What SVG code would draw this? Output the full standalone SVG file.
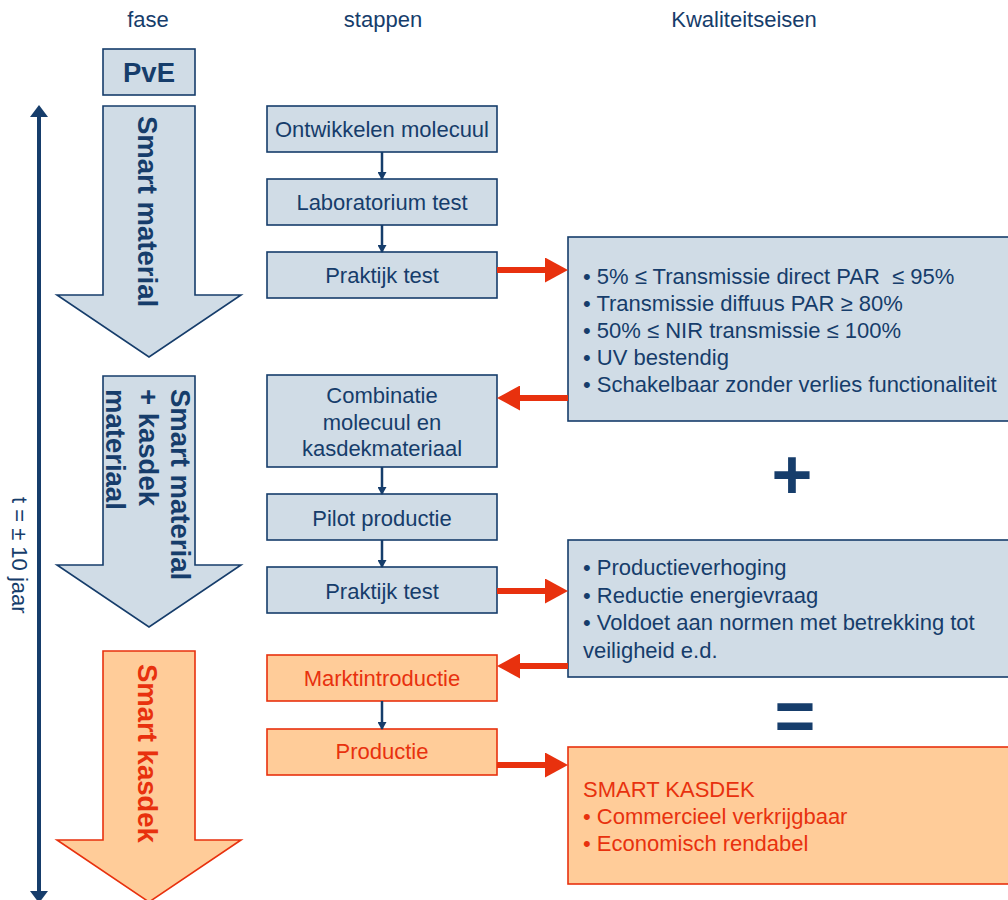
<svg xmlns="http://www.w3.org/2000/svg" width="1008" height="900" viewBox="0 0 1008 900">
<defs>
<style>
text{font-family:"Liberation Sans",Arial,sans-serif;}
.hdr{font-size:22px;fill:#163D6B;text-anchor:middle;}
.blue{fill:#D0DCE6;stroke:#163D6B;stroke-width:1.6;}
.orange{fill:#FFCC99;stroke:#E8310E;stroke-width:1.6;}
.t{font-size:22px;fill:#163D6B;}
.tc{font-size:22px;fill:#163D6B;text-anchor:middle;}
.tr{font-size:22px;fill:#E8310E;}
.trc{font-size:22px;fill:#E8310E;text-anchor:middle;}
.bold{font-size:27.5px;font-weight:bold;fill:#163D6B;}
.boldr{font-size:27.5px;font-weight:bold;fill:#E8310E;}
.conn{stroke:#163D6B;stroke-width:2.5;fill:none;}
.red{stroke:#E8310E;stroke-width:6;fill:none;}
.big{font-size:70px;font-weight:bold;fill:#163D6B;text-anchor:middle;}
</style>
<marker id="bh" markerUnits="userSpaceOnUse" markerWidth="8" markerHeight="9" refX="7" refY="4.5" orient="auto" viewBox="0 0 8 9">
<path d="M0,0 L8,4.5 L0,9 Z" fill="#163D6B"/>
</marker>
<marker id="rh" markerUnits="userSpaceOnUse" markerWidth="23" markerHeight="25" refX="3" refY="12.5" orient="auto" viewBox="0 0 23 25">
<path d="M0,0 L23,12.5 L0,25 Z" fill="#E8310E"/>
</marker>
</defs>

<g id="headers">
<text class="hdr" x="148" y="27">fase</text>
<text class="hdr" x="383" y="27">stappen</text>
<text class="hdr" x="744" y="27">Kwaliteitseisen</text>
</g>

<g id="timeline">
<line x1="39" y1="116" x2="39" y2="891" stroke="#163D6B" stroke-width="4"/>
<path d="M30,117 L39,105 L48,117 Z" fill="#163D6B"/>
<path d="M30,891 L39,903 L48,891 Z" fill="#163D6B"/>
<text class="t" transform="translate(12,497) rotate(90)">t = ± 10 jaar</text>
</g>

<g id="pve">
<rect class="blue" x="103" y="49" width="92" height="46"/>
<text class="bold" x="149" y="82" text-anchor="middle">PvE</text>
</g>

<g id="phase-smart-material">
<path class="blue" d="M103,106 H195 V295 H241 L149,357 L57,295 H103 Z"/>
<text class="bold" transform="translate(138,116) rotate(90)">Smart material</text>
</g>

<g id="phase-smart-material-kasdek">
<path class="blue" d="M103,376 H195 V565 H241 L149,627 L57,565 H103 Z"/>
<text class="bold" transform="translate(171,389) rotate(90)">Smart material</text>
<text class="bold" transform="translate(138.5,389) rotate(90)">+ kasdek</text>
<text class="bold" transform="translate(106,389) rotate(90)">materiaal</text>
</g>

<g id="phase-smart-kasdek">
<path class="orange" d="M103,651 H195 V840 H241 L149,902 L57,840 H103 Z"/>
<text class="boldr" transform="translate(138,664) rotate(90)">Smart kasdek</text>
</g>

<g id="step-ontwikkelen">
<rect class="blue" x="267" y="106" width="230" height="46"/>
<text class="tc" x="382" y="137">Ontwikkelen molecuul</text>
</g>
<g id="step-laboratorium">
<rect class="blue" x="267" y="179" width="230" height="46"/>
<text class="tc" x="382" y="210">Laboratorium test</text>
</g>
<g id="step-praktijk1">
<rect class="blue" x="267" y="252" width="230" height="46"/>
<text class="tc" x="382" y="283">Praktijk test</text>
</g>
<g id="step-combinatie">
<rect class="blue" x="267" y="375" width="230" height="92"/>
<text class="tc" x="382" y="403">Combinatie</text>
<text class="tc" x="382" y="429.5">molecuul en</text>
<text class="tc" x="382" y="456">kasdekmateriaal</text>
</g>
<g id="step-pilot">
<rect class="blue" x="267" y="494" width="230" height="46"/>
<text class="tc" x="382" y="526">Pilot productie</text>
</g>
<g id="step-praktijk2">
<rect class="blue" x="267" y="567" width="230" height="46"/>
<text class="tc" x="382" y="599">Praktijk test</text>
</g>
<g id="step-markt">
<rect class="orange" x="267" y="655" width="230" height="46"/>
<text class="trc" x="382" y="686">Marktintroductie</text>
</g>
<g id="step-productie">
<rect class="orange" x="267" y="729" width="230" height="46"/>
<text class="trc" x="382" y="759">Productie</text>
</g>

<g id="req-material">
<rect class="blue" x="568" y="237" width="450" height="184"/>
<text class="t" x="583" y="284">• 5% ≤ Transmissie direct PAR &#160;≤ 95%</text>
<text class="t" x="583" y="311">• Transmissie diffuus PAR ≥ 80%</text>
<text class="t" x="583" y="338">• 50% ≤ NIR transmissie ≤ 100%</text>
<text class="t" x="583" y="365">• UV bestendig</text>
<text class="t" x="583" y="392">• Schakelbaar zonder verlies functionaliteit</text>
</g>

<g id="plus">
<text class="big" x="792" y="499">+</text>
</g>

<g id="req-kasdek">
<rect class="blue" x="568" y="540" width="450" height="137"/>
<text class="t" x="583" y="575">• Productieverhoging</text>
<text class="t" x="583" y="602.5">• Reductie energievraag</text>
<text class="t" x="583" y="630">• Voldoet aan normen met betrekking tot</text>
<text class="t" x="583" y="657.5">veiligheid e.d.</text>
</g>

<g id="equals">
<text class="big" x="795" y="740">=</text>
</g>

<g id="result">
<rect class="orange" x="568" y="747" width="450" height="137"/>
<text class="tr" x="583" y="797">SMART KASDEK</text>
<text class="tr" x="583" y="824">• Commercieel verkrijgbaar</text>
<text class="tr" x="583" y="851">• Economisch rendabel</text>
</g>

<g id="connectors">
<line class="conn" x1="382" y1="152" x2="382" y2="179" marker-end="url(#bh)"/>
<line class="conn" x1="382" y1="225" x2="382" y2="252" marker-end="url(#bh)"/>
<line class="conn" x1="382" y1="467" x2="382" y2="494" marker-end="url(#bh)"/>
<line class="conn" x1="382" y1="540" x2="382" y2="567" marker-end="url(#bh)"/>
<line class="conn" x1="382" y1="701" x2="382" y2="729" marker-end="url(#bh)"/>
<line class="red" x1="497" y1="270" x2="548" y2="270" marker-end="url(#rh)"/>
<line class="red" x1="568" y1="398" x2="517" y2="398" marker-end="url(#rh)"/>
<line class="red" x1="497" y1="591" x2="548" y2="591" marker-end="url(#rh)"/>
<line class="red" x1="568" y1="666" x2="517" y2="666" marker-end="url(#rh)"/>
<line class="red" x1="497" y1="765" x2="548" y2="765" marker-end="url(#rh)"/>
</g>
</svg>
